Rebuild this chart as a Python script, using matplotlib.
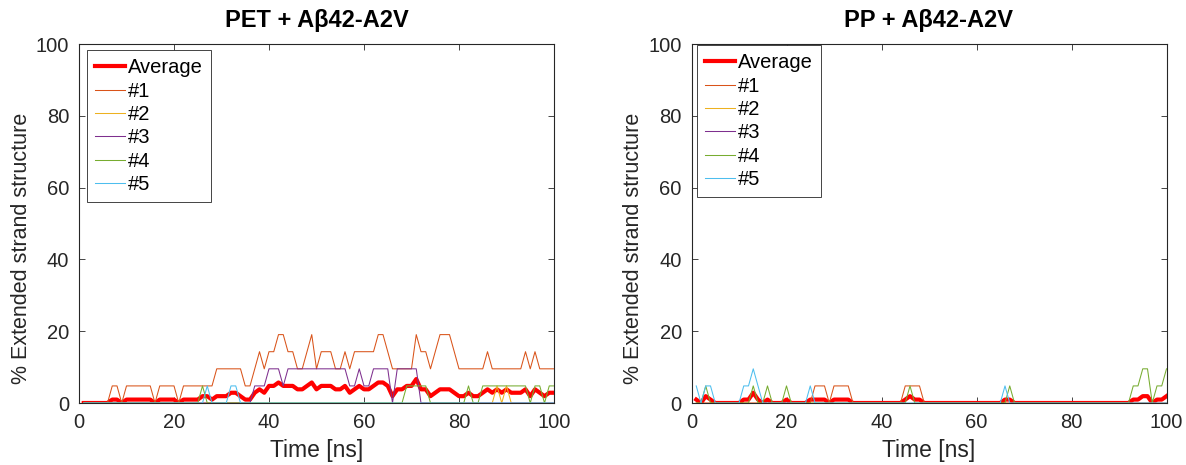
import numpy as np
import matplotlib
matplotlib.use('Agg')
import matplotlib.pyplot as plt

plt.rcParams['font.family'] = ['Liberation Sans', 'DejaVu Sans']

# time axis (ns), one frame per ns
time_ns = np.arange(1, 101)

# ---- PET + Abeta42-A2V : % extended strand per run ----
pet_run1 = [0, 0, 0, 0, 0, 0, 4.76, 4.76, 0, 4.76,
            4.76, 4.76, 4.76, 4.76, 4.76, 0, 4.76, 4.76, 4.76, 4.76,
            0, 4.76, 4.76, 4.76, 4.76, 4.76, 4.76, 4.76, 9.52, 9.52,
            9.52, 9.52, 9.52, 9.52, 4.76, 4.76, 9.52, 14.29, 9.52, 14.29,
            14.29, 19.05, 19.05, 14.29, 14.29, 9.52, 9.52, 14.29, 19.05, 9.52,
            14.29, 14.29, 14.29, 9.52, 9.52, 14.29, 9.52, 14.29, 14.29, 14.29,
            14.29, 14.29, 19.05, 19.05, 14.29, 9.52, 9.52, 9.52, 9.52, 9.52,
            19.05, 14.29, 14.29, 9.52, 14.29, 19.05, 19.05, 19.05, 14.29, 9.52,
            9.52, 9.52, 9.52, 9.52, 9.52, 14.29, 9.52, 9.52, 9.52, 9.52,
            9.52, 9.52, 9.52, 14.29, 9.52, 14.29, 9.52, 9.52, 9.52, 9.52]
pet_run2 = [0, 0, 0, 0, 0, 0, 0, 0, 0, 0,
            0, 0, 0, 0, 0, 0, 0, 0, 0, 0,
            0, 0, 0, 0, 0, 0, 0, 0, 0, 0,
            0, 0, 0, 0, 0, 0, 0, 0, 0, 0,
            0, 0, 0, 0, 0, 0, 0, 0, 0, 0,
            0, 0, 0, 0, 0, 0, 0, 0, 0, 0,
            0, 0, 0, 0, 0, 0, 0, 0, 0, 0,
            0, 0, 0, 0, 0, 0, 0, 0, 0, 0,
            0, 0, 0, 0, 0, 0, 0, 4.76, 0, 4.76,
            0, 0, 0, 0, 0, 0, 0, 0, 0, 0]
pet_run3 = [0, 0, 0, 0, 0, 0, 0, 0, 0, 0,
            0, 0, 0, 0, 0, 0, 0, 0, 0, 0,
            0, 0, 0, 0, 0, 0, 0, 0, 0, 0,
            0, 0, 0, 0, 0, 0, 4.76, 4.76, 4.76, 9.52,
            9.52, 9.52, 4.76, 9.52, 9.52, 9.52, 9.52, 9.52, 9.52, 9.52,
            9.52, 9.52, 9.52, 9.52, 9.52, 9.52, 4.76, 4.76, 9.52, 4.76,
            4.76, 9.52, 9.52, 9.52, 9.52, 0, 9.52, 9.52, 9.52, 9.52,
            9.52, 0, 0, 0, 0, 0, 0, 0, 0, 0,
            0, 0, 0, 0, 0, 0, 0, 0, 0, 0,
            0, 0, 0, 0, 0, 0, 0, 0, 0, 0]
pet_run4 = [0, 0, 0, 0, 0, 0, 0, 0, 0, 0,
            0, 0, 0, 0, 0, 0, 0, 0, 0, 0,
            0, 0, 0, 0, 0, 4.76, 0, 0, 0, 0,
            0, 0, 0, 0, 0, 0, 0, 0, 0, 0,
            0, 0, 0, 0, 0, 0, 0, 0, 0, 0,
            0, 0, 0, 0, 0, 0, 0, 0, 0, 0,
            0, 0, 0, 0, 0, 0, 0, 0, 4.76, 4.76,
            4.76, 4.76, 4.76, 0, 0, 0, 0, 0, 0, 0,
            0, 4.76, 0, 0, 4.76, 4.76, 4.76, 4.76, 4.76, 4.76,
            4.76, 4.76, 4.76, 4.76, 0, 4.76, 4.76, 0, 4.76, 4.76]
pet_run5 = [0, 0, 0, 0, 0, 0, 0, 0, 0, 0,
            0, 0, 0, 0, 0, 0, 0, 0, 0, 0,
            0, 0, 0, 0, 0, 0, 4.76, 0, 0, 0,
            0, 4.76, 4.76, 0, 0, 0, 0, 0, 0, 0,
            0, 0, 0, 0, 0, 0, 0, 0, 0, 0,
            0, 0, 0, 0, 0, 0, 0, 0, 0, 0,
            0, 0, 0, 0, 0, 0, 0, 0, 0, 0,
            0, 0, 0, 0, 0, 0, 0, 0, 0, 0,
            0, 0, 0, 0, 0, 0, 0, 0, 0, 0,
            0, 0, 0, 0, 0, 0, 0, 0, 0, 0]

# ---- PP + Abeta42-A2V ----
pp_run1 = [0, 0, 0, 0, 0, 0, 0, 0, 0, 0,
           0, 0, 0, 0, 0, 0, 0, 0, 0, 0,
           0, 0, 0, 0, 0, 4.76, 4.76, 4.76, 0, 4.76,
           4.76, 4.76, 4.76, 0, 0, 0, 0, 0, 0, 0,
           0, 0, 0, 0, 4.76, 4.76, 4.76, 4.76, 0, 0,
           0, 0, 0, 0, 0, 0, 0, 0, 0, 0,
           0, 0, 0, 0, 0, 0, 0, 0, 0, 0,
           0, 0, 0, 0, 0, 0, 0, 0, 0, 0,
           0, 0, 0, 0, 0, 0, 0, 0, 0, 0,
           0, 0, 0, 0, 0, 0, 0, 0, 0, 0]
pp_run2 = [0] * 100
pp_run3 = [0] * 100
pp_run4 = [0, 0, 4.76, 0, 0, 0, 0, 0, 0, 0,
           0, 0, 4.76, 0, 0, 4.76, 0, 0, 0, 4.76,
           0, 0, 0, 0, 0, 0, 0, 0, 0, 0,
           0, 0, 0, 0, 0, 0, 0, 0, 0, 0,
           0, 0, 0, 0, 0, 4.76, 0, 0, 0, 0,
           0, 0, 0, 0, 0, 0, 0, 0, 0, 0,
           0, 0, 0, 0, 0, 0, 4.76, 0, 0, 0,
           0, 0, 0, 0, 0, 0, 0, 0, 0, 0,
           0, 0, 0, 0, 0, 0, 0, 0, 0, 0,
           0, 0, 4.76, 4.76, 9.52, 9.52, 0, 4.76, 4.76, 9.52]
pp_run5 = [4.76, 0, 4.76, 4.76, 0, 0, 0, 0, 0, 0,
           4.76, 4.76, 9.52, 4.76, 0, 0, 0, 0, 0, 0,
           0, 0, 0, 0, 4.76, 0, 0, 0, 0, 0,
           0, 0, 0, 0, 0, 0, 0, 0, 0, 0,
           0, 0, 0, 0, 0, 0, 0, 0, 0, 0,
           0, 0, 0, 0, 0, 0, 0, 0, 0, 0,
           0, 0, 0, 0, 0, 4.76, 0, 0, 0, 0,
           0, 0, 0, 0, 0, 0, 0, 0, 0, 0,
           0, 0, 0, 0, 0, 0, 0, 0, 0, 0,
           0, 0, 0, 0, 0, 0, 0, 0, 0, 0]

titles = ['PET + Aβ42-A2V', 'PP + Aβ42-A2V']
run_labels = ['#1', '#2', '#3', '#4', '#5']
run_colors = ['#D95319', '#EDB120', '#7E2F8E', '#77AC30', '#4DBEEE']
x_ticks = [0, 20, 40, 60, 80, 100]
y_ticks = [0, 20, 40, 60, 80, 100]

panels = [
    [pet_run1, pet_run2, pet_run3, pet_run4, pet_run5],
    [pp_run1, pp_run2, pp_run3, pp_run4, pp_run5],
]

W, H = 1186, 465
fig = plt.figure(figsize=(W / 100, H / 100), dpi=100)
axes_px = [(79, 44, 475, 359), (691.5, 44, 475, 359)]
legend_anchor = [(0.0168, 0.983), (0.0116, 0.997)]
axcol = '0.15'

for k, (runs, title) in enumerate(zip(panels, titles)):
    x0, ytop, w, h = axes_px[k]
    ax = fig.add_axes([x0 / W, (H - ytop - h) / H, w / W, h / H])
    avg = np.mean(np.array(runs, dtype=float), axis=0)
    ax.plot(time_ns, avg, color='#FF0000', lw=3.0, label='Average', zorder=2,
            solid_joinstyle='round')
    for run, c, lab in zip(runs, run_colors, run_labels):
        ax.plot(time_ns, run, color=c, lw=0.75, label=lab, zorder=3)
    ax.set_xlim(0, 100)
    ax.set_ylim(0, 100)
    ax.set_xticks(x_ticks)
    ax.set_yticks(y_ticks)
    ax.tick_params(direction='in', length=4, width=0.6, colors=axcol,
                   labelsize=14.5, top=True, right=True)
    ax.tick_params(axis='x', pad=7)
    ax.tick_params(axis='y', pad=7)
    for sp in ax.spines.values():
        sp.set_color(axcol)
        sp.set_linewidth(0.8)
    ax.set_title(title, fontsize=17, fontweight='bold', pad=12)
    ax.set_xlabel('Time [ns]', fontsize=16.5, color='0.15', labelpad=5)
    ax.set_ylabel('% Extended strand structure', fontsize=15.5, color='0.15')
    ax.yaxis.set_label_coords(-0.099, 0.43)
    leg = ax.legend(loc='upper left', bbox_to_anchor=legend_anchor[k],
                    borderaxespad=0, fontsize=14.5, frameon=True, fancybox=False,
                    edgecolor='0.15', framealpha=1, handlelength=1.5,
                    handletextpad=0.15, labelspacing=0.22, borderpad=0.4)
    leg.get_frame().set_linewidth(0.6)

fig.savefig('out.png', dpi=100)
